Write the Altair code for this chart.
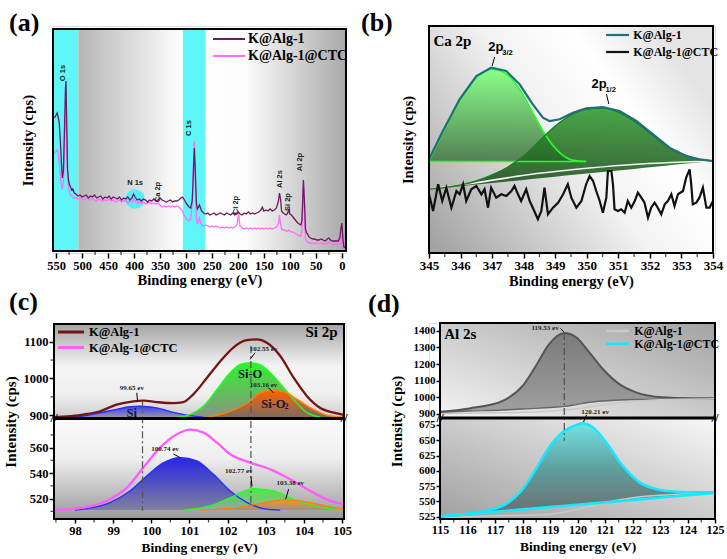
import altair as alt
import pandas as pd

SERIF = "Liberation Serif"
SANS = "Liberation Sans"
L1 = "K@Alg-1"
L2 = "K@Alg-1@CTC"

# ================= (a) survey spectra =================
a_ev = [553, 550, 548, 546, 544, 542, 540, 538, 536, 534,
        532, 531, 530, 528, 526, 524, 522, 520, 518, 515,
        512, 508, 504, 500, 496, 492, 488, 484, 480, 476,
        472, 468, 464, 460, 456, 452, 448, 444, 440, 436,
        432, 428, 424, 420, 416, 412, 408, 404, 401, 398,
        394, 390, 386, 382, 378, 374, 370, 366, 362, 358,
        354, 350, 346, 342, 338, 334, 330, 326, 322, 318,
        314, 310, 307, 304, 300, 297, 294, 291, 288, 286,
        284, 282, 280, 278, 276, 274, 272, 270, 266, 262,
        258, 254, 250, 246, 242, 238, 234, 230, 226, 222,
        218, 214, 210, 206, 202, 199, 196, 192, 188, 184,
        180, 176, 172, 168, 164, 160, 156, 153, 150, 146,
        142, 138, 134, 130, 126, 122, 120, 118, 116, 113,
        110, 107, 104, 102, 100, 97, 94, 91, 88, 85,
        82, 79, 77, 75, 74, 72, 70, 68, 66, 63,
        60, 56, 52, 48, 44, 40, 36, 32, 28, 25,
        22, 18, 14, 10, 7, 4, 2, 0, -2, -4, -7]
a_alg = [133, 136, 138, 134, 128, 112, 90, 73, 80, 120,
         162, 170, 140, 82, 70, 66, 64, 61, 62, 58,
         57, 55, 56, 54, 55, 56, 53, 55, 54, 56,
         53, 54, 55, 52, 54, 53, 55, 52, 54, 53,
         52, 54, 51, 53, 52, 54, 51, 53, 57, 54,
         51, 52, 50, 52, 51, 49, 51, 50, 52, 50,
         51, 53, 51, 50, 49, 50, 51, 49, 50, 50,
         51, 53, 54, 52, 48, 46, 44, 43, 50, 75,
         103, 80, 48, 42, 44, 46, 43, 40, 38, 37,
         38, 36, 37, 38, 36, 37, 38, 37, 36, 38,
         37, 36, 38, 36, 37, 39, 37, 36, 38, 37,
         39, 37, 38, 37, 38, 39, 41, 44, 40, 41,
         40, 42, 40, 41, 43, 50, 58, 52, 40, 38,
         37, 36, 38, 42, 37, 36, 34, 32, 30, 28,
         27, 26, 30, 55, 71, 50, 22, 18, 17, 14,
         13, 12, 12, 11, 11, 12, 11, 10, 12, 13,
         11, 10, 10, 10, 10, 13, 22, 28, 12, 4, 3]
a_ctc = [98, 100, 101, 97, 88, 76, 66, 62, 68, 100,
         140, 150, 122, 75, 64, 58, 56, 55, 54, 53,
         53, 52, 53, 52, 51, 53, 52, 51, 52, 51,
         50, 52, 51, 50, 51, 50, 52, 50, 51, 49,
         50, 51, 49, 50, 50, 48, 50, 49, 52, 50,
         48, 49, 48, 49, 47, 48, 49, 47, 48, 47,
         48, 46, 44, 45, 44, 45, 44, 45, 44, 45,
         44, 42, 40, 36, 33, 31, 30, 32, 48, 80,
         110, 70, 33, 27, 30, 33, 29, 26, 25, 26,
         25, 24, 25, 24, 25, 24, 23, 24, 23, 24,
         23, 24, 23, 24, 26, 37, 25, 23, 22, 23,
         22, 23, 22, 23, 22, 23, 22, 23, 22, 23,
         22, 23, 22, 23, 24, 28, 36, 27, 22, 21,
         21, 20, 20, 21, 20, 19, 19, 18, 17, 16,
         15, 15, 20, 48, 66, 40, 12, 10, 9, 8,
         8, 8, 7, 8, 7, 8, 7, 7, 8, 9,
         8, 7, 7, 7, 7, 8, 13, 16, 6, 2, 2]
a_lab_text = ["O 1s", "C 1s", "N 1s", "Ca 2p", "Cl 2p", "Al 2s", "Si 2p", "Al 2p"]
a_lab_ev = [537, 293.5, 398, 354, 203.5, 120, 104, 79.7]
a_lab_h = [178, 123, 68, 59, 46, 72, 49, 89]
a_lab_angle = [270, 270, 0, 270, 270, 270, 270, 270]
a_band_edges = [556, 507, 306, 263, -8]
a_n1s_ev = [398]
a_n1s_h = [52]
a_xmajor = [0, 50, 100, 150, 200, 250, 300, 350, 400, 450, 500, 550]
a_xminor = [25, 75, 125, 175, 225, 275, 325, 375, 425, 475, 525]

# ================= (b) Ca 2p =================
b_env_ev = [345.0, 345.44, 345.97, 346.50, 346.97, 347.45, 347.87, 348.29, 348.61, 348.82,
            349.14, 349.56, 349.98, 350.51, 351.04, 351.57, 352.10, 352.62, 353.15, 353.57, 354.0]
b_env_h = [93.7, 122, 153.7, 177, 185.3, 182, 168.7, 148.7, 135.3, 132,
           133.7, 140.3, 144.7, 146, 142, 132, 118.7, 105.3, 97, 93.7, 92]
b_p1_ev = [345.0, 345.44, 345.97, 346.50, 346.97, 347.45, 347.87, 348.29, 348.71, 349.14, 349.56, 349.98]
b_p1_h = [92, 120.3, 152, 175.3, 183.7, 179.3, 163.7, 140.3, 117, 100.3, 92.7, 91.5]
b_p1_base = 91.5
b_p1_base_ev = [345.0, 349.98]
b_p2_ev = [345.0, 345.5, 346.0, 346.5, 347.0, 347.5, 348.0, 348.5, 349.0, 349.5,
           350.0, 350.5, 351.0, 351.5, 352.0, 352.5, 353.0, 353.5, 354.0]
b_p2_h = [63.7, 65.5, 68, 72, 78, 86, 97, 112, 127, 138,
          144, 145, 141, 132, 120, 107.5, 99, 94, 92]
b_p2_base = [63.7, 65.3, 66.8, 68.4, 70.0, 71.6, 73.1, 74.7, 76.3, 77.9,
             79.4, 81.0, 82.6, 84.1, 85.7, 87.3, 88.9, 90.4, 92.0]
b_sh_ev = [345.0, 346.5, 348.08, 349.67, 351.25, 352.84, 354.0]
b_sh_h = [63.7, 70.3, 78, 83.7, 88, 90.7, 92]
b_ctc_ev = [345.0, 345.13, 345.29, 345.42, 345.55, 345.71, 345.87, 345.97, 346.08, 346.18,
            346.34, 346.50, 346.66, 346.76, 346.87, 346.97, 347.13, 347.29, 347.45, 347.61,
            347.71, 347.82, 347.92, 348.08, 348.19, 348.29, 348.45, 348.56, 348.66, 348.77,
            348.93, 349.09, 349.25, 349.40, 349.51, 349.67, 349.83, 349.98, 350.09, 350.20,
            350.30, 350.41, 350.51, 350.62, 350.67, 350.78, 350.83, 350.88, 350.99, 351.09,
            351.20, 351.30, 351.41, 351.52, 351.62, 351.73, 351.83, 351.94, 352.04, 352.15,
            352.25, 352.36, 352.47, 352.57, 352.68, 352.78, 352.89, 353.05, 353.15, 353.26,
            353.31, 353.36, 353.47, 353.57, 353.68, 353.79, 353.89, 354.0]
b_ctc_h = [58.7, 42, 68.7, 52, 65.3, 45.3, 62, 58.7, 68.7, 52,
           63.7, 67, 58.7, 63.7, 45.3, 65.3, 55.3, 58.7, 57, 62,
           67, 58.7, 52, 63.7, 52, 45.3, 33.7, 42, 65.3, 38.7,
           45.3, 50.3, 58.7, 68.7, 55.3, 45.3, 52, 68.7, 77, 72,
           62, 52, 40.3, 55.3, 82, 82, 68.7, 43.7, 42, 43.7,
           40.3, 52, 45.3, 52, 60.3, 55.3, 50.3, 35.3, 45.3, 50.3,
           45.3, 38.7, 48.7, 52, 58.7, 47, 58.7, 62, 75.3, 83.7,
           68.7, 48.7, 50.3, 55.3, 65.3, 45.3, 45.3, 52]
b_xmajor = [345, 346, 347, 348, 349, 350, 351, 352, 353, 354]
b_xminor = [345.5, 346.5, 347.5, 348.5, 349.5, 350.5, 351.5, 352.5, 353.5]

# ================= (c) Si 2p =================
c_up_env_ev = [97.45, 98.22, 98.66, 99.09, 99.53, 99.79, 100.14, 100.58, 100.84, 101.1, 101.46,
               101.81, 102.15, 102.5, 102.77, 103.03, 103.38, 103.73, 104.08, 104.43, 104.78, 105.05]
c_up_env = [895, 902, 911, 929, 938, 940, 936, 933, 936, 957, 1002,
            1047, 1084, 1104, 1106, 1097, 1061, 1002, 952, 920, 907, 901]
c_up_si_ev = [97.9, 98.22, 98.66, 99.09, 99.44, 99.71, 100.14, 100.58, 101.01, 101.36]
c_up_si = [895, 898, 907, 916, 923, 925, 920, 908, 899, 895]
c_up_sio_ev = [100.67, 101.02, 101.37, 101.72, 102.07, 102.33, 102.59, 102.86, 103.16, 103.47, 103.73, 104.08, 104.43]
c_up_sio = [895, 902, 925, 970, 1016, 1038, 1043, 1037, 1011, 975, 943, 907, 895]
c_up_sio2_ev = [101.46, 102.07, 102.59, 102.81, 103.16, 103.47, 103.82, 104.25, 104.69, 105.05]
c_up_sio2 = [895, 911, 938, 958, 968, 964, 943, 916, 898, 895]
c_up_base = 895
c_lo_env_ev = [97.45, 98.22, 98.83, 99.36, 99.79, 100.23, 100.67, 101.02, 101.37, 101.72,
               102.07, 102.59, 103.12, 103.64, 104.17, 104.69, 105.05]
c_lo_env = [511.1, 513, 518.2, 528.6, 544.3, 560, 570.5, 574.1, 571.8, 563.9,
            554.8, 548.2, 543, 535.2, 526, 518.2, 515.6]
c_lo_si_ev = [98.0, 98.22, 98.92, 99.44, 99.88, 100.32, 100.76, 101.19, 101.63, 102.07, 102.51, 102.94, 103.38]
c_lo_si = [511, 511.7, 516.9, 526, 537.8, 548.2, 552.2, 549.6, 539.1, 526, 516.9, 512.2, 511]
c_lo_sio_ev = [100.84, 101.54, 102.07, 102.68, 103.2, 103.73, 104.25, 104.78, 105.05]
c_lo_sio = [511, 514.3, 520.8, 527.9, 526, 519.5, 514.3, 511.7, 511.1]
c_lo_sio2_ev = [101.28, 102.16, 102.77, 103.47, 104.17, 104.69, 105.05]
c_lo_sio2 = [511, 512.5, 515.6, 519, 516.9, 513.5, 511.7]
c_lo_base = 511
c_xmajor = [98, 99, 100, 101, 102, 103, 104, 105]
c_xminor = [97.5, 98.5, 99.5, 100.5, 101.5, 102.5, 103.5, 104.5]
c_ymajor = [520, 540, 560, 900, 1000, 1100]
c_yminor = [510, 530, 550, 570, 950, 1050]
c_note_text = ["99.65 ev", "102.55 ev", "103.16 ev", "100.74 ev", "102.77 ev", "103.38 ev"]
c_note_ev = [99.49, 102.94, 102.94, 100.36, 102.29, 103.64]
c_note_v = [973, 1079, 981, 558.7, 541.4, 532.3]
c_arrow = [(99.62, 961, 99.64, 938), (102.72, 1070, 102.59, 1052), (103.07, 975, 103.2, 961),
           (100.58, 555, 100.74, 552.5), (102.61, 537.5, 102.64, 529.7), (103.6, 527.4, 103.52, 519.6)]
c_drop = [(99.77, 938, 510.4), (102.61, 1088, 515.6)]

# ================= (d) Al 2s =================
d_up_ev = [115.0, 116.07, 117.28, 118.01, 118.49, 118.97, 119.52, 119.95, 120.43, 120.92,
           121.52, 122.13, 123.1, 124.07, 125.0]
d_up_env = [912, 932, 978, 1069, 1190, 1321, 1388, 1362, 1271, 1170, 1079, 1029, 999, 993, 993]
d_up_bg = [908, 916, 922, 928, 932, 937, 944, 955, 969, 977, 983, 986, 988, 989, 990]
d_up_raw_ev = [115, 116, 117, 118, 119, 120, 121, 122, 123, 124, 125]
d_up_raw = [900, 902, 905, 908, 915, 930, 955, 975, 985, 988, 990]
d_lo_ev = [115.0, 116.07, 117.28, 118.01, 118.49, 118.97, 119.46, 119.95, 120.19, 120.55,
           121.04, 121.64, 122.25, 122.85, 123.58, 124.43, 125.0]
d_lo_env = [525.5, 530, 542.9, 570.3, 603, 638.5, 663, 675, 677.7, 671.2,
            646.7, 608.4, 581.2, 570.3, 565.9, 564.9, 564.9]
d_lo_base = [525.5, 529.6, 534.2, 537.0, 538.8, 540.7, 542.5, 544.4, 545.3, 546.7,
             548.6, 550.9, 553.3, 555.6, 558.3, 561.6, 563.7]
d_lo_raw_ev = [115, 116, 117, 118, 119, 120, 121, 122, 123, 124, 125]
d_lo_raw = [524, 525, 526.5, 527.5, 529, 537, 548, 556, 560, 562.5, 563.7]
d_xmajor = [115, 116, 117, 118, 119, 120, 121, 122, 123, 124, 125]
d_xminor = [115.5, 116.5, 117.5, 118.5, 119.5, 120.5, 121.5, 122.5, 123.5, 124.5]
d_ymajor = [525, 550, 575, 600, 625, 650, 675, 900, 1000, 1100, 1200, 1300, 1400]


# ================= helpers =================
def grad(stops, x1=0, y1=0, x2=0, y2=1):
    return alt.LinearGradient(gradient="linear",
                              stops=[alt.GradientStop(offset=o, color=c) for o, c in stops],
                              x1=x1, y1=y1, x2=x2, y2=y2)


def axis(values=None, title=None, tsize=14, lsize=12, lpad=3, tpad=3,
         tick=4, offset=0, labels=True, ticks=True):
    kw = dict(title=title, domain=False, grid=False, labels=labels, ticks=ticks,
              labelFont=SERIF, labelFontWeight="bold", labelFontSize=lsize, labelColor="black",
              labelPadding=lpad, labelFlush=False, labelOverlap=False, format="d",
              tickColor="black", tickWidth=1.5, tickSize=tick, zindex=1,
              titleFont=SERIF, titleFontWeight="bold", titleFontSize=tsize, titleColor="black",
              titlePadding=tpad, offset=offset)
    if values is not None:
        kw["values"] = values
    return alt.Axis(**kw)


def legend(x, y, size, fsize, off, rowpad, sw):
    return alt.Legend(title=None, orient="none", legendX=x, legendY=y, direction="vertical",
                      symbolType="M-4,0H4", symbolSize=size, symbolStrokeWidth=sw,
                      labelFont=SERIF, labelFontWeight="bold", labelFontSize=fsize,
                      labelColor="black", labelOffset=off, rowPadding=rowpad, padding=0,
                      labelLimit=0)


def box(X, Y, x1, x2, y1, y2, fill=None):
    df = pd.DataFrame({"x1": [x1], "x2": [x2], "y1": [y1], "y2": [y2]})
    if fill is None:
        m = alt.Chart(df).mark_rect(filled=False, stroke="black", strokeWidth=2, color="black")
    else:
        m = alt.Chart(df).mark_rect(fill=fill, strokeWidth=0)
    return m.encode(x=X("x1"), x2="x2", y=Y("y1"), y2="y2")


def curve(X, Y, ev, v, color, width, interp="monotone", dash=None):
    df = pd.DataFrame({"ev": ev, "v": v})
    kw = dict(color=color, strokeWidth=width, interpolate=interp)
    if dash:
        kw["strokeDash"] = dash
    return alt.Chart(df).mark_line(**kw).encode(x=X("ev"), y=Y("v"))


def fill(X, Y, ev, v, base, g, op=1.0):
    if isinstance(base, list):
        df = pd.DataFrame({"ev": ev, "v": v, "b": base})
        y2 = alt.Y2("b")
    else:
        df = pd.DataFrame({"ev": ev, "v": v})
        y2 = alt.datum(base)
    return alt.Chart(df).mark_area(fill=g, opacity=op, interpolate="monotone", strokeWidth=0).encode(
        x=X("ev"), y=Y("v"), y2=y2)


def texts(X, Y, t, ev, v, size, font=SERIF, weight="bold", color="black", align="center",
          baseline="middle", angle=None):
    df = pd.DataFrame({"t": t, "ev": ev, "v": v})
    enc = dict(x=X("ev"), y=Y("v"), text="t:N")
    if angle is not None:
        df["ang"] = angle
        enc["angle"] = alt.Angle("ang:Q", scale=None)
    return alt.Chart(df).mark_text(font=font, fontWeight=weight, fontSize=size, color=color,
                                   align=align, baseline=baseline).encode(**enc)


def segs(X, Y, rows, color="black", width=1.0, dash=None):
    df = pd.DataFrame(rows, columns=["x1", "y1", "x2", "y2"])
    kw = dict(color=color, strokeWidth=width)
    if dash:
        kw["strokeDash"] = dash
    return alt.Chart(df).mark_rule(**kw).encode(x=X("x1"), y=Y("y1"), x2="x2", y2="y2")


def xminor(X, vals, yv, length):
    # short outward minor ticks under the bottom frame edge
    return alt.Chart(pd.DataFrame({"ev": vals, "v": [yv] * len(vals)})).mark_tick(
        orient="vertical", size=length, thickness=1.3, color="black", yOffset=1 + length / 2).encode(
        x=X("ev"))


def tag(label, px, py):
    return alt.Chart(pd.DataFrame({"t": [label]})).mark_text(
        font=SERIF, fontWeight="bold", fontSize=26, align="left", baseline="alphabetic",
        color="black").encode(x=alt.value(px), y=alt.value(py), text="t:N")


# ================= panel (a) =================
XA = alt.Scale(domain=[556, -8], range=[0, 293], nice=False, zero=False)
YA = alt.Scale(domain=[0, 222], range=[225, 3], nice=False, zero=False)
AXA_X = axis(a_xmajor, "Binding energy (eV)", tsize=14.5, lsize=12.5, lpad=1, tpad=2, tick=5)
AXA_Y = axis(title="Intensity (cps)", tsize=15, labels=False, ticks=False, tpad=18)


def xa(f):
    return alt.X(f, type="quantitative", scale=XA, axis=AXA_X)


def ya(f):
    return alt.Y(f, type="quantitative", scale=YA, axis=AXA_Y)


CYAN = "#5ef6f6"
a_lines = pd.DataFrame({"ev": a_ev + a_ev, "v": a_ctc + a_alg,
                        "s": [L2] * len(a_ev) + [L1] * len(a_ev)})
a_layers = [
    box(xa, ya, a_band_edges[0], a_band_edges[1], 0, 222, CYAN),
    box(xa, ya, a_band_edges[1], a_band_edges[2], 0, 222,
        grad([(0, "#b6b6b6"), (1, "#ffffff")], 0, 0, 1, 0)),
    box(xa, ya, a_band_edges[2], a_band_edges[3], 0, 222, CYAN),
    box(xa, ya, a_band_edges[3], a_band_edges[4], 0, 222,
        grad([(0, "#ffffff"), (0.3, "#fbfbfb"), (1, "#a9a9a9")], 0, 0, 1, 0)),
    alt.Chart(pd.DataFrame({"ev": a_n1s_ev, "v": a_n1s_h})).mark_point(
        filled=True, size=380, color="#4eeef6", opacity=0.95).encode(x=xa("ev"), y=ya("v")),
    alt.Chart(a_lines).mark_line(strokeWidth=1.3).encode(
        x=xa("ev"), y=ya("v"),
        color=alt.Color("s:N", scale=alt.Scale(domain=[L1, L2], range=["#6c1a63", "#ff6cff"]),
                        legend=legend(169, 6, 64, 14, 12, 3, 2))),
    texts(xa, ya, a_lab_text, a_lab_ev, a_lab_h, 7.5, font=SANS, color="#222",
          angle=a_lab_angle),
    box(xa, ya, a_band_edges[0], a_band_edges[4], 0, 222),
    xminor(xa, a_xminor, 0, 3),
    tag("(a)", -44, 5),
    alt.Chart(pd.DataFrame({"d": [0]})).mark_point(size=1, opacity=0).encode(
        x=alt.value(-52), y=alt.value(-25)),
]


def with_y(chart_list, Y, yv):
    return chart_list


a_layers[-3] = alt.Chart(pd.DataFrame({"ev": a_xminor, "v": [0] * len(a_xminor)})).mark_tick(
    orient="vertical", size=3, thickness=1.3, color="black", yOffset=2.5).encode(x=xa("ev"), y=ya("v"))
pa = alt.layer(*a_layers).properties(width=293, height=227)

# ================= panel (b) =================
XB = alt.Scale(domain=[345, 354], range=[0, 284], nice=False, zero=False)
YB = alt.Scale(domain=[0, 227], range=[227, 0], nice=False, zero=False)
AXB_X = axis(b_xmajor, "Binding energy (eV)", tsize=14.5, lsize=13, lpad=1, tpad=2, tick=5)
AXB_Y = axis(title="Intensity (cps)", tsize=14.5, labels=False, ticks=False, tpad=14)


def xb(f):
    return alt.X(f, type="quantitative", scale=XB, axis=AXB_X)


def yb(f):
    return alt.Y(f, type="quantitative", scale=YB, axis=AXB_Y)


b_lines = pd.DataFrame({"ev": b_ctc_ev + b_env_ev, "v": b_ctc_h + b_env_h,
                        "s": [L2] * len(b_ctc_ev) + [L1] * len(b_env_ev)})
b_layers = [
    box(xb, yb, 345, 354, 0, 227,
        grad([(0, "#a2a2a2"), (0.55, "#f2f2f2"), (0.78, "#ffffff"), (1, "#e4e4e4")], 0, 0.95, 1, 0.35)),
    fill(xb, yb, b_p1_ev, b_p1_h, b_p1_base, grad([(0, "#86ff86"), (1, "#4f7d4f")]), 0.97),
    fill(xb, yb, b_p2_ev, b_p2_h, b_p2_base, grad([(0, "#2f9a2f"), (1, "#1d4a1d")]), 0.88),
    curve(xb, yb, b_sh_ev, b_sh_h, "#f4f4f4", 1.6),
    curve(xb, yb, b_p1_base_ev, [b_p1_base, b_p1_base], "#28ff28", 1.6, interp="linear"),
    curve(xb, yb, b_p1_ev, b_p1_h, "#28ff28", 1.6),
    curve(xb, yb, b_p2_ev, b_p2_h, "#1e7d1e", 1.4),
    alt.Chart(b_lines).mark_line(strokeWidth=2.2).encode(
        x=xb("ev"), y=yb("v"),
        color=alt.Color("s:N", scale=alt.Scale(domain=[L1, L2], range=["#1f6f7d", "#111111"]),
                        legend=legend(182.6, 3, 33, 12, 9.6, 5, 2.2))),
    texts(xb, yb, ["Ca 2p"], [345.14], [207], 15, align="left", baseline="alphabetic"),
    texts(xb, yb, ["2p", "2p"], [346.88, 350.15], [202, 165], 13, font=SANS, align="left",
          baseline="alphabetic"),
    texts(xb, yb, ["3/2", "1/2"], [347.32, 350.59], [198, 161], 7.5, font=SANS, align="left",
          baseline="alphabetic"),
    segs(xb, yb, [(347.08, 196, 347.0, 187), (350.62, 159, 350.7, 149)], width=1),
    box(xb, yb, 345, 354, 0, 227),
    alt.Chart(pd.DataFrame({"ev": b_xminor, "v": [0] * len(b_xminor)})).mark_tick(
        orient="vertical", size=3, thickness=1.3, color="black", yOffset=2.5).encode(x=xb("ev"), y=yb("v")),
    tag("(b)", -68, 5),
]
pb = alt.layer(*b_layers).properties(width=286, height=227)

# ================= panel (c) =================
XC = alt.Scale(domain=[97.45, 105.05], range=[1, 291], nice=False, zero=False)
YC = alt.Scale(domain=[504, 582.5, 892.6, 1148], range=[196, 96, 95, 1], nice=False, zero=False)
AXC_X = axis(c_xmajor, "Binding energy (eV)", tsize=13.5, lsize=12.5, lpad=1, tpad=4, tick=4)
AXC_Y = axis(c_ymajor, "Intensity (cps)", tsize=15, lsize=12.5, lpad=1, tpad=5, tick=4)


def xc(f):
    return alt.X(f, type="quantitative", scale=XC, axis=AXC_X)


def yc(f):
    return alt.Y(f, type="quantitative", scale=YC, axis=AXC_Y)


c_lines = pd.DataFrame({"ev": c_up_env_ev + c_lo_env_ev, "v": c_up_env + c_lo_env,
                        "s": [L1] * len(c_up_env_ev) + [L2] * len(c_lo_env_ev)})
c_layers = [
    box(xc, yc, 97.45, 105.05, 892.6, 1148,
        grad([(0, "#a4a4a4"), (0.45, "#f4f4f4"), (0.75, "#efefef"), (1, "#cdcdcd")])),
    box(xc, yc, 97.45, 105.05, 504, 582.5,
        grad([(0, "#fbfbfb"), (0.4, "#eeeeee"), (1, "#999999")])),
    fill(xc, yc, c_up_si_ev, c_up_si, c_up_base, grad([(0, "#4040f2"), (1, "#9494aa")])),
    fill(xc, yc, c_up_sio_ev, c_up_sio, c_up_base, grad([(0, "#30f030"), (1, "#8c9482")])),
    fill(xc, yc, c_up_sio2_ev, c_up_sio2, c_up_base, grad([(0, "#ff6200"), (1, "#7d6b60")])),
    curve(xc, yc, c_up_si_ev, c_up_si, "#2a2aff", 1.4),
    curve(xc, yc, c_up_sio_ev, c_up_sio, "#22ff22", 1.4),
    curve(xc, yc, c_up_sio2_ev, c_up_sio2, "#ff8000", 1.4),
    fill(xc, yc, c_lo_si_ev, c_lo_si, c_lo_base, grad([(0, "#2626e4"), (1, "#8080a0")])),
    fill(xc, yc, c_lo_sio_ev, c_lo_sio, c_lo_base, grad([(0, "#33f033"), (1, "#a0ae9e")]), 0.85),
    fill(xc, yc, c_lo_sio2_ev, c_lo_sio2, c_lo_base, grad([(0, "#ff9020"), (1, "#a08e80")]), 0.9),
    curve(xc, yc, c_lo_si_ev, c_lo_si, "#2a2aff", 1.3),
    curve(xc, yc, c_lo_sio_ev, c_lo_sio, "#22ff22", 1.3),
    curve(xc, yc, c_lo_sio2_ev, c_lo_sio2, "#ff8000", 1.3),
    alt.Chart(c_lines).mark_line(strokeWidth=2.3, interpolate="monotone").encode(
        x=xc("ev"), y=yc("v"),
        color=alt.Color("s:N", scale=alt.Scale(domain=[L1, L2], range=["#741414", "#ff5cff"]),
                        legend=legend(11.75, 2.75, 42, 12.5, 11.75, 2.5, 3))),
    segs(xc, yc, [(x, a, x, b) for x, a, b in c_drop], color="#555555", width=1.2,
         dash=[7, 3, 2, 3]),
    texts(xc, yc, c_note_text, c_note_ev, c_note_v, 7, color="#222"),
    segs(xc, yc, c_arrow, width=1),
    texts(xc, yc, ["Si", "Si-O", "Si-O"], [99.49, 102.59, 103.2], [906, 1011, 931], 12.5,
          color="#14143c"),
    texts(xc, yc, ["2"], [103.54], [922], 8, color="#14143c"),
    texts(xc, yc, ["Si 2p"], [104.88], [1125], 15, align="right"),
    box(xc, yc, 97.45, 105.05, 892.6, 1148),
    box(xc, yc, 97.45, 105.05, 504, 582.5),
    alt.Chart(pd.DataFrame({"ev": c_xminor, "v": [504] * len(c_xminor)})).mark_tick(
        orient="vertical", size=2.5, thickness=1.3, color="black", yOffset=2.2).encode(x=xc("ev"), y=yc("v")),
    alt.Chart(pd.DataFrame({"ev": [97.45] * len(c_yminor), "v": c_yminor})).mark_tick(
        orient="horizontal", size=2.5, thickness=1.3, color="black", xOffset=-2.2).encode(x=xc("ev"), y=yc("v")),
    texts(xc, yc, ["//", "//"], [97.45, 105.05], [740, 740], 13),
    tag("(c)", -44, -13),
]
pc = alt.layer(*c_layers).properties(width=293, height=196)

# ================= panel (d) =================
XD = alt.Scale(domain=[115, 125], range=[11, 286], nice=False, zero=False)
YD = alt.Scale(domain=[521.2, 685.6, 877, 1448], range=[196, 95.5, 94.5, 0], nice=False, zero=False)
AXD_X = axis(d_xmajor, "Binding energy (eV)", tsize=13.5, lsize=12, lpad=1, tpad=4, tick=4)
AXD_Y = axis(d_ymajor, "Intensity (cps)", tsize=15, lsize=11, lpad=1, tpad=9, tick=4,
             offset=-11)


def xd(f):
    return alt.X(f, type="quantitative", scale=XD, axis=AXD_X)


def yd(f):
    return alt.Y(f, type="quantitative", scale=YD, axis=AXD_Y)


d_lines = pd.DataFrame({"ev": d_up_raw_ev + d_lo_ev, "v": d_up_raw + d_lo_env,
                        "s": [L1] * len(d_up_raw_ev) + [L2] * len(d_lo_ev),
                        "w": [1.5] * len(d_up_raw_ev) + [2.6] * len(d_lo_ev)})
d_layers = [
    box(xd, yd, 115, 125, 877, 1448,
        grad([(0, "#a3a3a3"), (1, "#f3f3f3")], 1, 0, 0, 1)),
    box(xd, yd, 115, 125, 521.2, 685.6,
        grad([(0, "#a0a0a0"), (1, "#f7f7f7")], 0, 1, 1, 0)),
    fill(xd, yd, d_up_ev, d_up_env, d_up_bg, grad([(0, "#777777"), (1, "#9c9c9c")]), 0.95),
    curve(xd, yd, d_up_ev, d_up_bg, "#666666", 1.4),
    curve(xd, yd, d_up_ev, d_up_env, "#555555", 2),
    fill(xd, yd, d_lo_ev, d_lo_env, d_lo_base, grad([(0, "#74e2e2"), (0.5, "#5e9e9e"), (1, "#6c6c6c")])),
    curve(xd, yd, d_lo_raw_ev, d_lo_raw, "#c8c8c8", 1.5),
    curve(xd, yd, d_lo_ev, d_lo_base, "#18e8ff", 2.6, interp="linear"),
    alt.Chart(d_lines).mark_line(interpolate="monotone").encode(
        x=xd("ev"), y=yd("v"),
        strokeWidth=alt.StrokeWidth("w:Q", scale=None, legend=None),
        color=alt.Color("s:N", scale=alt.Scale(domain=[L1, L2], range=["#c9c9c9", "#18e8ff"]),
                        legend=legend(182.6, 2, 33, 12, 10.6, 0.7, 2.6))),
    segs(xd, yd, [(119.52, 1388, 119.52, 649)], color="#555555", width=1.3, dash=[7, 3, 2, 3]),
    texts(xd, yd, ["119.53 ev", "120.21 ev"], [118.82, 120.64], [1420, 910], 7, color="#222"),
    segs(xd, yd, [(119.38, 1415, 119.5, 1395), (120.33, 893, 120.22, 680)], width=1),
    texts(xd, yd, ["Al 2s"], [115.15], [1352], 15, align="left", baseline="alphabetic"),
    box(xd, yd, 115, 125, 877, 1448),
    box(xd, yd, 115, 125, 521.2, 685.6),
    alt.Chart(pd.DataFrame({"ev": d_xminor, "v": [521.2] * len(d_xminor)})).mark_tick(
        orient="vertical", size=2.5, thickness=1.3, color="black", yOffset=2.2).encode(x=xd("ev"), y=yd("v")),
    texts(xd, yd, ["//", "//"], [115, 125], [780, 780], 13),
    tag("(d)", -61, -11),
]
pdd = alt.layer(*d_layers).properties(width=286, height=196)

chart = alt.concat(pa, pb, pc, pdd, columns=2, spacing={"row": 70, "column": 83},
                   bounds="flush").resolve_scale(
    color="independent", x="independent", y="independent", strokeWidth="independent"
).resolve_legend(color="independent").properties(
    padding={"left": 0, "top": 0, "right": 0, "bottom": 0}
).configure_view(strokeWidth=0).configure(background="white")

chart.save("out.html", embed_options={"renderer": "svg", "actions": False})
